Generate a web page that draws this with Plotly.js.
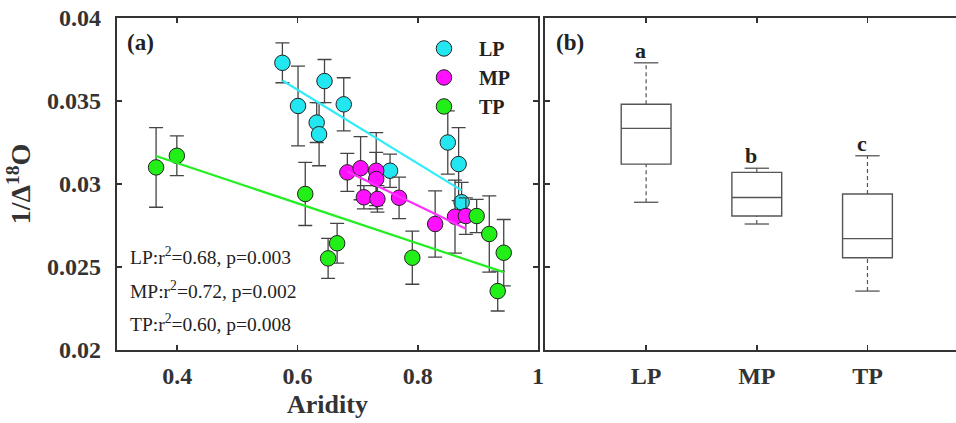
<!DOCTYPE html>
<html>
<head>
<meta charset="utf-8">
<script src="https://cdn.plot.ly/plotly-3.0.1.min.js"></script>
<style>html,body{margin:0;padding:0;background:#fff;}#chart{width:956px;height:423px;}</style>
</head>
<body>
<div id="chart"></div>
<script>
// ---- data ----
const groups = ['LP', 'MP', 'TP'];

const lpX   = [0.575, 0.601, 0.645, 0.677, 0.632, 0.636, 0.850, 0.868, 0.873, 0.754];
const lpY   = [0.0373, 0.0347, 0.0362, 0.0348, 0.0337, 0.0330, 0.0325, 0.0312, 0.0289, 0.0308];
const lpErr = [0.0012, 0.0024, 0.0013, 0.0016, 0.0012, 0.0019, 0.0019, 0.0022, 0.0012, 0.0010];

const mpX   = [0.683, 0.705, 0.731, 0.731, 0.7105, 0.733, 0.769, 0.829, 0.862, 0.880];
const mpY   = [0.0307, 0.03095, 0.0308, 0.0303, 0.0292, 0.0291, 0.02917, 0.02759, 0.02803, 0.02807];
const mpErr = [0.00115, 0.0019, 0.0023, 0.0016, 0.0007, 0.0008, 0.00125, 0.0020, 0.0022, 0.0011];

const tpX   = [0.365, 0.3995, 0.613, 0.651, 0.666, 0.791, 0.898, 0.919, 0.943, 0.933];
const tpY   = [0.0310, 0.0317, 0.0294, 0.02552, 0.02643, 0.02556, 0.02807, 0.02699, 0.02586, 0.02355];
const tpErr = [0.0024, 0.0012, 0.0019, 0.0012, 0.0012, 0.0016, 0.0010, 0.0023, 0.0020, 0.0012];

const fitSlope     = [-0.0222, -0.0175, -0.0121];
const fitIntercept = [0.0490, 0.0427, 0.0361];
const r2Values     = ['0.68', '0.72', '0.60'];
const pValues      = ['0.003', '0.002', '0.008'];
const boxLetters   = ['a', 'b', 'c'];

const xTicks = [0.4, 0.6, 0.8, 1];
const xTickText = ['0.4', '0.6', '0.8', '1'];
const yTicks = [0.02, 0.025, 0.03, 0.035, 0.04];
const yTickText = ['0.02', '0.025', '0.03', '0.035', '0.04'];

// ---- styling ----
const fillColors = ['#22e6f0', '#ff10ff', '#22ee18'];
const lineColors = ['#30ecfa', '#ff30ff', '#22ee22'];
const axColor = '#333';
const serif = 'Liberation Serif, Times New Roman, serif';

const xs = [lpX, mpX, tpX], ys = [lpY, mpY, tpY], errs = [lpErr, mpErr, tpErr];
const traces = [];

groups.forEach((g, i) => {
  traces.push({
    type: 'scatter', mode: 'markers', name: g, x: xs[i], y: ys[i],
    xaxis: 'x', yaxis: 'y',
    error_y: {type: 'data', array: errs[i], visible: true, color: '#444', thickness: 1.3, width: 7},
    marker: {size: 15.5, color: fillColors[i], line: {color: '#222', width: 1}}
  });
});
groups.forEach((g, i) => {
  const x0 = Math.min(...xs[i]), x1 = Math.max(...xs[i]);
  traces.push({
    type: 'scatter', mode: 'lines', showlegend: false, hoverinfo: 'skip',
    x: [x0, x1], y: [fitIntercept[i] + fitSlope[i] * x0, fitIntercept[i] + fitSlope[i] * x1],
    xaxis: 'x', yaxis: 'y', line: {color: lineColors[i], width: 2.2}
  });
});

function median(a) { const n = a.length, m = Math.floor(n / 2); return n % 2 ? a[m] : (a[m - 1] + a[m]) / 2; }
const annotations = [];
groups.forEach((g, i) => {
  const s = ys[i].slice().sort((a, b) => a - b);
  const n = s.length, h = Math.floor(n / 2);
  const q1 = median(s.slice(0, h)), q3 = median(s.slice(n % 2 ? h + 1 : h));
  const med = median(s), lo = s[0], hi = s[n - 1];
  const c = i + 1;
  traces.push({
    type: 'box', x: [c], q1: [q1], median: [med], q3: [q3], lowerfence: [q1], upperfence: [q3],
    width: 0.45, whiskerwidth: 0, fillcolor: 'rgba(0,0,0,0)', boxpoints: false,
    line: {color: '#555', width: 1.4}, xaxis: 'x2', yaxis: 'y2', showlegend: false, hoverinfo: 'skip'
  });
  traces.push({
    type: 'scatter', mode: 'lines', x: [c, c, null, c, c], y: [q3, hi, null, lo, q1],
    line: {color: '#555', width: 1.2, dash: '4px,3px'}, xaxis: 'x2', yaxis: 'y2', showlegend: false, hoverinfo: 'skip'
  });
  traces.push({
    type: 'scatter', mode: 'lines', x: [c - 0.11, c + 0.11, null, c - 0.11, c + 0.11], y: [hi, hi, null, lo, lo],
    line: {color: '#555', width: 1.3}, xaxis: 'x2', yaxis: 'y2', showlegend: false, hoverinfo: 'skip'
  });
  annotations.push({
    xref: 'x2', yref: 'y2', x: c - 0.05, y: hi, yanchor: 'bottom', yshift: -2, showarrow: false,
    text: boxLetters[i], font: {family: serif, size: 22, weight: 'bold', color: '#222'}
  });
  annotations.push({
    xref: 'x domain', yref: 'y domain', x: 0.026, y: [0.283, 0.181, 0.081][i], xanchor: 'left', yanchor: 'middle',
    showarrow: false, text: g + ':r<sup>2</sup>=' + r2Values[i] + ', p=' + pValues[i],
    font: {family: serif, size: 19.5, color: '#222'}
  });
});
annotations.push({xref: 'x domain', yref: 'y domain', x: 0.018, y: 0.97, xanchor: 'left', yanchor: 'top', showarrow: false,
  text: '(a)', font: {family: serif, size: 23, weight: 'bold', color: '#222'}});
annotations.push({xref: 'x2 domain', yref: 'y2 domain', x: 0.022, y: 0.97, xanchor: 'left', yanchor: 'top', showarrow: false,
  text: '(b)', font: {family: serif, size: 23, weight: 'bold', color: '#222'}});

const tickFont = {family: serif, size: 24, weight: 'bold', color: axColor};
const common = {showline: true, linewidth: 2.2, linecolor: axColor, ticks: 'inside', ticklen: 5, tickwidth: 1.8,
  tickcolor: axColor, showgrid: false, zeroline: false, tickfont: tickFont};

const layout = {
  width: 956, height: 423,
  margin: {l: 117, r: 0, t: 18, b: 73},
  paper_bgcolor: '#fff', plot_bgcolor: '#fff',
  showlegend: true,
  legend: {x: 0.348, y: 0.967, xanchor: 'left', yanchor: 'top', bgcolor: 'rgba(0,0,0,0)', itemwidth: 60,
    font: {family: serif, size: 20, weight: 'bold', color: '#222'}, tracegroupgap: 0},
  xaxis: Object.assign({}, common, {domain: [0, 0.5018], range: [0.3, 1.0], tickvals: xTicks, ticktext: xTickText,
    mirror: 'ticks', anchor: 'y', ticklabelstandoff: 3,
    title: {text: 'Aridity', standoff: 7, font: {family: serif, size: 26, weight: 'bold', color: axColor}}}),
  yaxis: Object.assign({}, common, {domain: [0, 1], range: [0.02, 0.04], tickvals: yTicks, ticktext: yTickText,
    mirror: 'ticks', anchor: 'x', ticklabelstandoff: 9,
    title: {text: '1/Δ<sup>18</sup>O', standoff: 8, font: {family: serif, size: 28, weight: 'bold', color: axColor}}}),
  xaxis2: Object.assign({}, common, {domain: [0.5101, 1], range: [0.086, 3.8], tickvals: [1, 2, 3], ticktext: groups,
    mirror: 'ticks', anchor: 'y2', ticklabelstandoff: 3}),
  yaxis2: Object.assign({}, common, {domain: [0, 1], range: [0.02, 0.04], tickvals: yTicks, showticklabels: false,
    mirror: false, anchor: 'x2'}),
  annotations: annotations
};

Plotly.newPlot('chart', traces, layout, {displayModeBar: false, staticPlot: true});
</script>
</body>
</html>
